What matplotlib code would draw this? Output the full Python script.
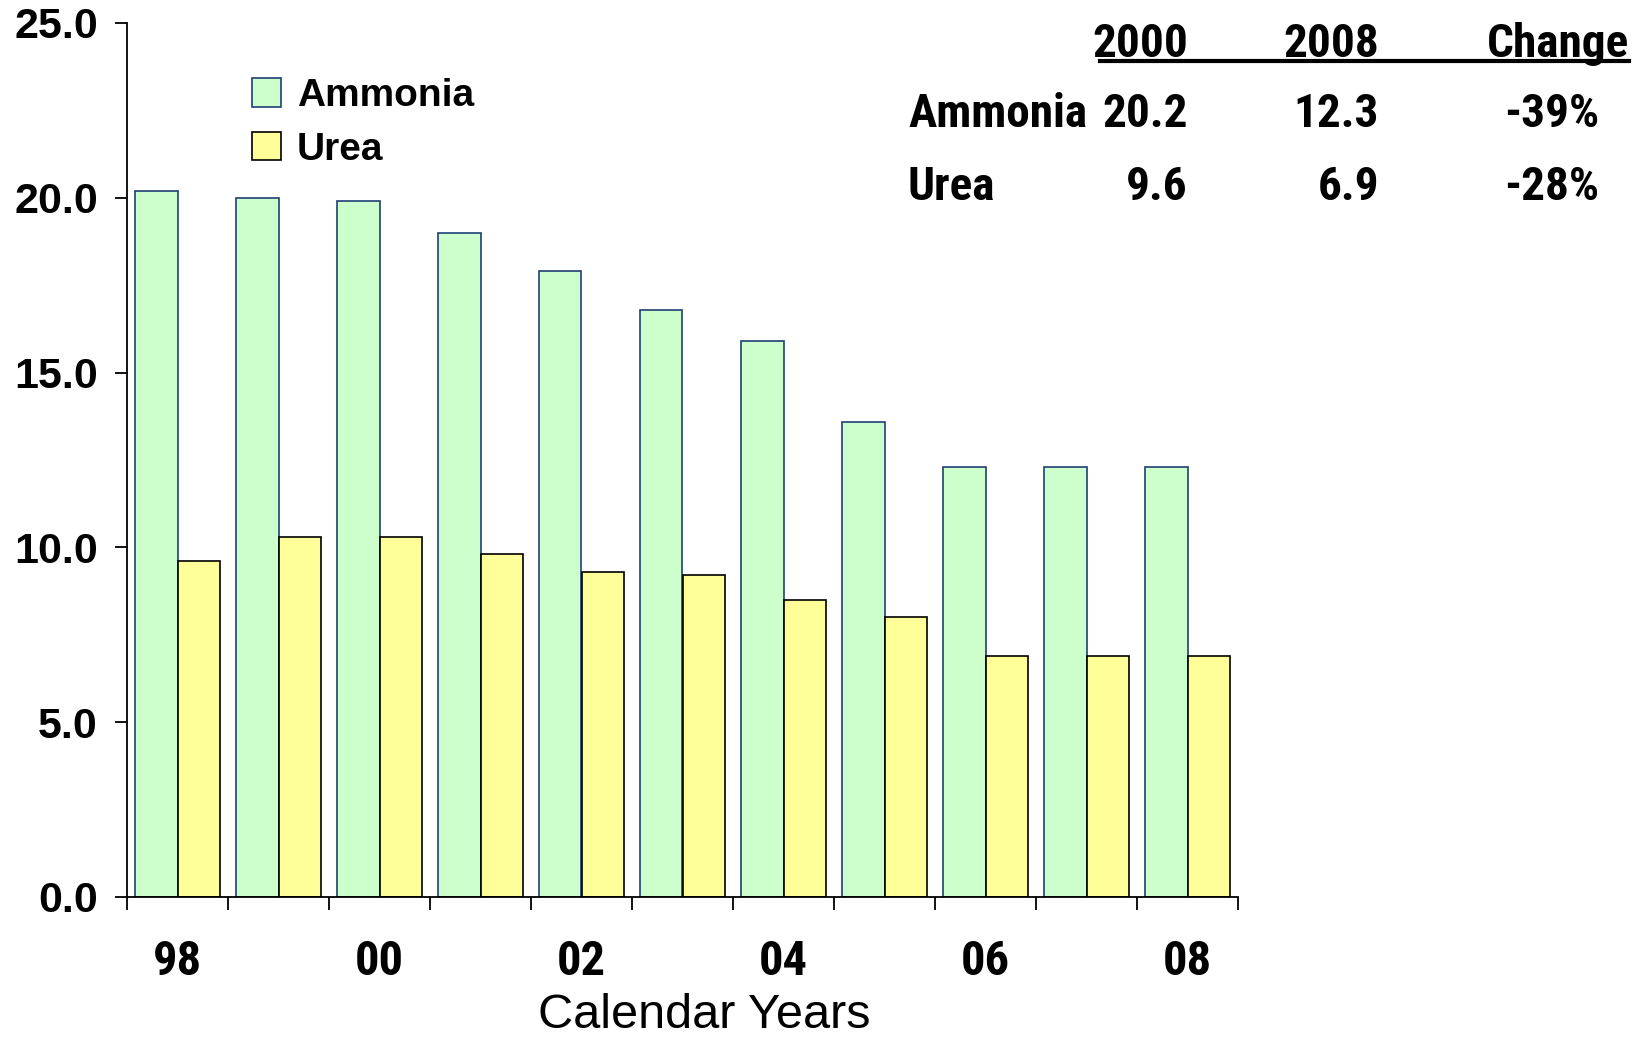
import matplotlib
matplotlib.use("Agg")
import matplotlib.pyplot as plt
from matplotlib import font_manager
import numpy as np

years = ["98", "99", "00", "01", "02", "03", "04", "05", "06", "07", "08"]
ammonia = [20.2, 20.0, 19.9, 19.0, 17.9, 16.8, 15.9, 13.6, 12.3, 12.3, 12.3]
urea = [9.6, 10.3, 10.3, 9.8, 9.3, 9.2, 8.5, 8.0, 6.9, 6.9, 6.9]
series_names = ["Ammonia", "Urea"]
yticks = [0, 5, 10, 15, 20, 25]

table_cols = ["2000", "2008", "Change"]
table_rows = ["Ammonia", "Urea"]
table_vals = [["20.2", "12.3", "-39%"], ["9.6", "6.9", "-28%"]]

avail = {f.name for f in font_manager.fontManager.ttflist}
NARROW = None
for cand in ["Liberation Sans Narrow", "Arial Narrow", "Roboto Condensed", "Open Sans Condensed"]:
    if cand in avail:
        NARROW = cand
        break
BASE = "Liberation Sans"
plt.rcParams["font.family"] = [BASE, "DejaVu Sans"]
if NARROW is None:
    NARROW = BASE
    narrow_scale = 0.86
else:
    narrow_scale = 1.0

W, H = 1648, 1037
fig = plt.figure(figsize=(W / 100, H / 100), dpi=100)
ax = fig.add_axes([127 / W, 1 - 897 / H, (1238 - 127) / W, (897 - 23) / H])

x = np.arange(len(years))
bw = 0.42
ax.bar(x - bw / 2, ammonia, bw, color="#CCFFCC", edgecolor="#1F3F74", linewidth=1.2,
       label=series_names[0])
ax.bar(x + bw / 2, urea, bw, color="#FFFF99", edgecolor="#000000", linewidth=1.2,
       label=series_names[1])

ax.set_xlim(-0.5, len(years) - 0.5)
ax.set_ylim(0, 25)
for s in ["top", "right"]:
    ax.spines[s].set_visible(False)
for s in ["left", "bottom"]:
    ax.spines[s].set_linewidth(1.3)

ax.set_yticks(yticks)
ax.set_yticklabels([f"{v:.1f}" for v in yticks], fontsize=31, fontweight="bold")
ax.tick_params(axis="y", direction="out", length=9, width=1.3, pad=12)

ax.set_xticks(np.arange(-0.5, len(years), 1.0))
ax.set_xticklabels([])
ax.tick_params(axis="x", which="major", direction="out", length=9, width=1.3)
ax.set_xticks(x[::2], minor=True)
ax.set_xticklabels(years[::2], minor=True, fontsize=35 * narrow_scale, fontweight="bold",
                   family=[NARROW, "DejaVu Sans"])
ax.tick_params(axis="x", which="minor", length=0, pad=30)

fig.text(704 / W, 1 - 1015 / H, "Calendar Years", fontsize=35, ha="center", va="center")

leg = ax.legend(loc="upper left", bbox_to_anchor=(217 / W, 1 - 43 / H),
                bbox_transform=fig.transFigure, frameon=False,
                prop={"weight": "bold", "size": 28}, handlelength=0.75, handleheight=0.75,
                handletextpad=0.4, labelspacing=0.45)

# table
tfont = dict(fontsize=34 * narrow_scale, fontweight="bold", family=[NARROW, "DejaVu Sans"])
col_right = [1188, 1379, 1629]
hdr_y = 44
for c, r in zip(table_cols, col_right):
    fig.text(r / W, 1 - hdr_y / H, c, ha="right", va="center", **tfont)
fig.add_artist(plt.Line2D([1100 / W, 1629 / W], [1 - 61 / H, 1 - 61 / H],
                          color="black", linewidth=3, transform=fig.transFigure))
val_right = [1188, 1379, 1599]
row_y = [114, 187]
for name, vals, yy in zip(table_rows, table_vals, row_y):
    fig.text(908 / W, 1 - yy / H, name, ha="left", va="center", **tfont)
    for v, r in zip(vals, val_right):
        fig.text(r / W, 1 - yy / H, v, ha="right", va="center", **tfont)

fig.savefig("out.png", dpi=100)
